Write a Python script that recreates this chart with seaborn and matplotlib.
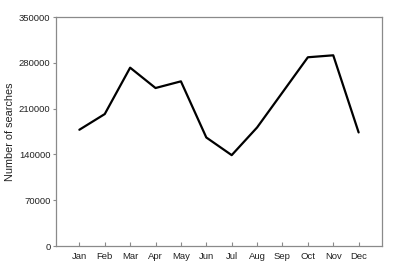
import matplotlib
matplotlib.use("Agg")
import matplotlib.pyplot as plt
import seaborn as sns
import pandas as pd

months = ["Jan", "Feb", "Mar", "Apr", "May", "Jun", "Jul", "Aug", "Sep", "Oct", "Nov", "Dec"]
searches = [177700, 201700, 272600, 241500, 251700, 165900, 138900, 181200, 234800, 288500, 291500, 173600]
yticks = [0, 70000, 140000, 210000, 280000, 350000]

sns.set_theme(style="white")
plt.rcParams["font.family"] = ["Liberation Sans", "DejaVu Sans"]

df = pd.DataFrame({"month": months, "searches": searches, "idx": range(len(months))})

fig = plt.figure(figsize=(4.0, 2.62), dpi=100)
ax = fig.add_axes([0.14, 0.061, 0.815, 0.874])
sns.lineplot(data=df, x="idx", y="searches", color="black", linewidth=1.6, ax=ax)

ax.set_xlim(-0.92, 11.92)
ax.set_ylim(0, 350000)
ax.set_xticks(range(len(months)))
ax.set_xticklabels(months)
ax.set_yticks(yticks)
ax.set_yticklabels([str(v) for v in yticks])
ax.set_xlabel("")
ax.set_ylabel("Number of searches", fontsize=7.8, labelpad=3, color="#222222")
for s in ax.spines.values():
    s.set_color("#8a8a8a")
    s.set_linewidth(0.9)
ax.tick_params(axis="x", direction="in", length=3, width=0.8, color="#8a8a8a", labelsize=6.8, pad=4, labelcolor="#222222")
ax.tick_params(axis="y", direction="out", length=2, width=0.8, color="#8a8a8a", labelsize=6.8, pad=2, labelcolor="#222222")
ax.tick_params(left=True, bottom=True)

fig.savefig("out.png", dpi=100)
